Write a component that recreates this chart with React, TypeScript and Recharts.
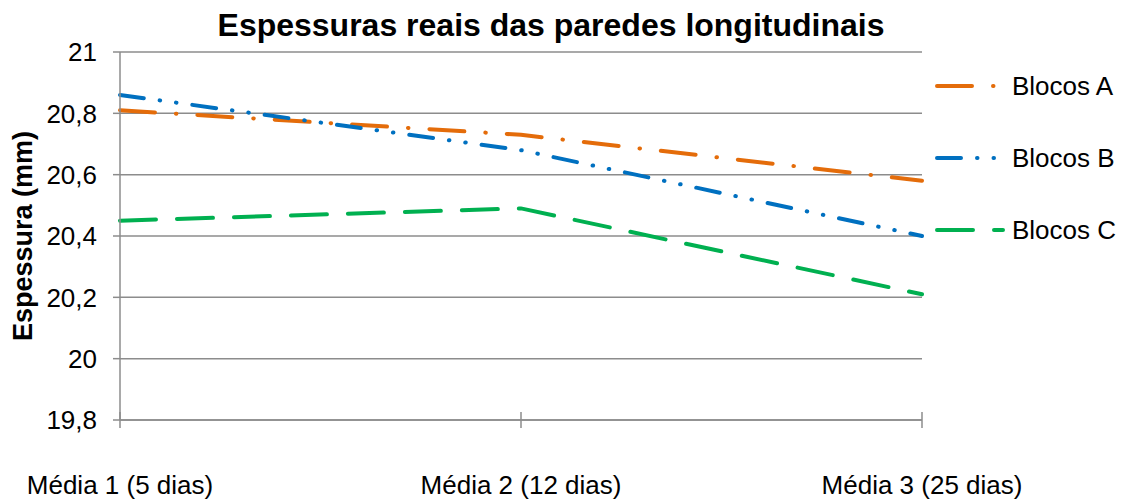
import { LineChart, Line, XAxis, YAxis, CartesianGrid } from 'recharts';

const categories = ['Média 1 (5 dias)', 'Média 2 (12 dias)', 'Média 3 (25 dias)'];
const blocosA = [20.81, 20.73, 20.58];
const blocosB = [20.86, 20.68, 20.4];
const blocosC = [20.45, 20.49, 20.21];
const yTicks = [19.8, 20, 20.2, 20.4, 20.6, 20.8, 21];

const series = [
  { key: 'a', name: 'Blocos A', color: '#E46C0A', dash: '35 21 0.5 21' },
  { key: 'b', name: 'Blocos B', color: '#0070C0', dash: '24 16 0.5 16 0.5 16' },
  { key: 'c', name: 'Blocos C', color: '#00B050', dash: '36 21' },
];

const data = categories.map((name, i) => ({ name, a: blocosA[i], b: blocosB[i], c: blocosC[i] }));

const FONT = 'Arial, "Liberation Sans", sans-serif';
const GRID = '#8c8c8c';

function XTick(props: any) {
  const { x, y, payload } = props;
  return (
    <g>
      <line x1={x} x2={x} y1={y - 8} y2={y + 8} stroke={GRID} strokeWidth={1.5} />
      <text x={x} y={y + 74} textAnchor="middle" fontSize={26} fontFamily={FONT} fill="#000">
        {payload.value}
      </text>
    </g>
  );
}

function YLabel(props: any) {
  const vb = props.viewBox || {};
  const cy = (vb.y ?? 52) + (vb.height ?? 368) / 2;
  return (
    <text x={0} y={0} transform={`translate(32, ${cy}) rotate(-90)`} textAnchor="middle"
      fontSize={27} fontWeight="bold" fontFamily={FONT} fill="#000">
      Espessura (mm)
    </text>
  );
}

function LegendBox() {
  return (
    <div style={{ position: 'absolute', left: 935, top: 50, fontFamily: FONT, fontSize: 26 }}>
      {series.map((s) => (
        <div key={s.key} style={{ display: 'flex', alignItems: 'center', height: 72 }}>
          <svg width={77} height={10} style={{ display: 'block' }}>
            <line x1={2} x2={68} y1={5} y2={5} stroke={s.color} strokeWidth={4}
              strokeLinecap="round" strokeDasharray={s.dash} />
          </svg>
          <span style={{ color: '#000' }}>{s.name}</span>
        </div>
      ))}
    </div>
  );
}

export default function App() {
  return (
    <div style={{ position: 'absolute', left: 0, top: 0, width: 1126, height: 500, background: '#fff' }}>
      <div style={{
        position: 'absolute', left: 0, top: 5, width: 1102, textAlign: 'center',
        fontFamily: FONT, fontWeight: 'bold', fontSize: 32, color: '#000', lineHeight: '40px',
      }}>
        Espessuras reais das paredes longitudinais
      </div>
      <LineChart width={1126} height={500} data={data}
        margin={{ top: 52, right: 204, bottom: 50, left: 0 }}>
        <CartesianGrid vertical={false} stroke={GRID} strokeWidth={1.5} />
        <XAxis dataKey="name" height={30} axisLine={{ stroke: GRID, strokeWidth: 1.5 }} tickLine={false}
          tickSize={0} tickMargin={0} tick={<XTick />} interval={0} />
        <YAxis domain={[19.8, 21]} ticks={yTicks} width={120} tickSize={7} tickMargin={16}
          axisLine={{ stroke: GRID, strokeWidth: 1.5 }} tickLine={{ stroke: GRID, strokeWidth: 1.5 }}
          tick={{ fontSize: 26, fontFamily: FONT, fill: '#000' }}
          tickFormatter={(v: number) => String(Math.round(v * 10) / 10).replace('.', ',')}
          label={<YLabel />} />
        {series.map((s) => (
          <Line key={s.key} dataKey={s.key} name={s.name} stroke={s.color} strokeWidth={4}
            strokeLinecap="round" strokeDasharray={s.dash} dot={false} activeDot={false}
            isAnimationActive={false} type="linear" />
        ))}
      </LineChart>
      <LegendBox />
    </div>
  );
}
